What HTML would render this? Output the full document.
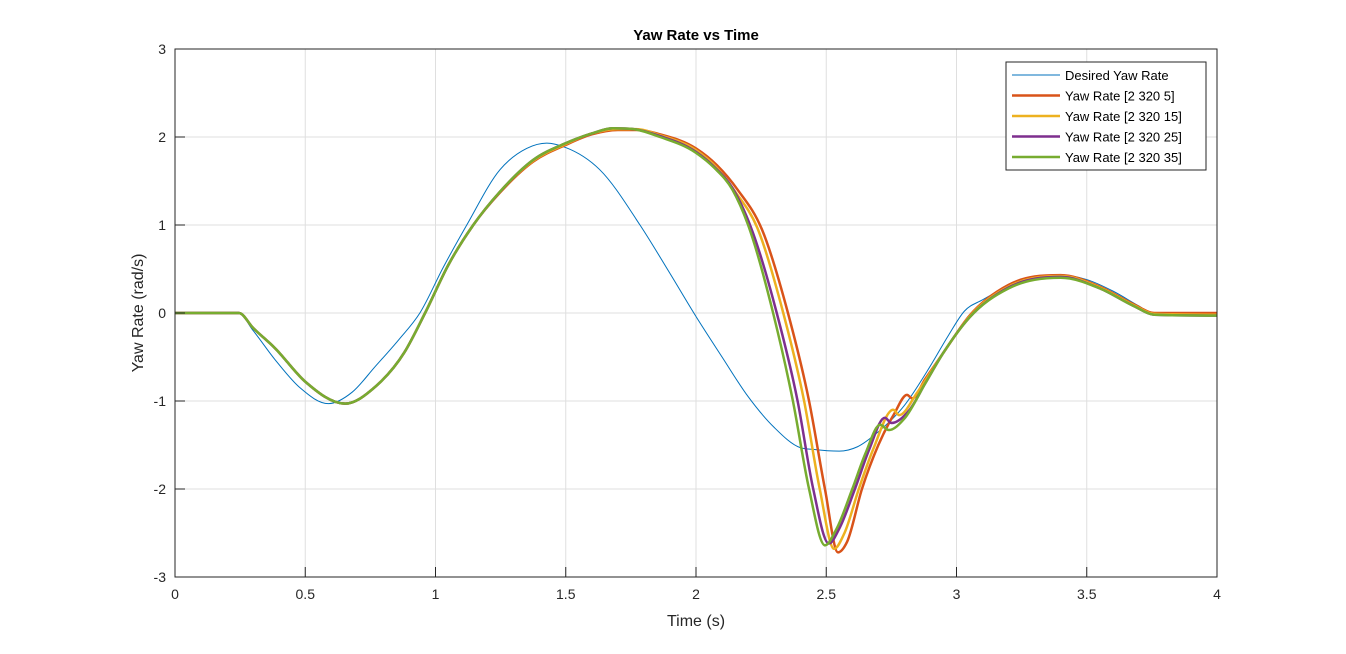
<!DOCTYPE html>
<html><head><meta charset="utf-8"><style>
body{margin:0;background:#fff}
svg text{font-family:"Liberation Sans",Arial,sans-serif;fill:#262626}
</style></head><body>
<svg id="chart" width="1346" height="649" viewBox="0 0 1346 649" xmlns="http://www.w3.org/2000/svg">
<rect width="1346" height="649" fill="#fff"/>
<g id="grid"></g>
<g id="series"></g>
<rect x="175" y="49" width="1042" height="528" fill="none" stroke="#262626" stroke-width="1"/>
<g id="ticks"></g>
<text x="696" y="40" text-anchor="middle" font-size="15" font-weight="bold" style="fill:#000">Yaw Rate vs Time</text>
<text x="696" y="626" text-anchor="middle" font-size="16">Time (s)</text>
<text transform="translate(143,313) rotate(-90)" text-anchor="middle" font-size="16">Yaw Rate (rad/s)</text>
<g id="legend"></g>
</svg>
<script>
const xTicks=[0,0.5,1,1.5,2,2.5,3,3.5,4];
const yTicks=[-3,-2,-1,0,1,2,3];
const seriesNames=["Desired Yaw Rate","Yaw Rate [2 320 5]","Yaw Rate [2 320 15]","Yaw Rate [2 320 25]","Yaw Rate [2 320 35]"];
const desired=[[0,0],[0.243,0],[0.3,-0.2],[0.384,-0.53],[0.48,-0.85],[0.589,-1.03],[0.68,-0.9],[0.768,-0.61],[0.86,-0.3],[0.94,0],[1.03,0.52],[1.12,1.0],[1.248,1.63],[1.35,1.87],[1.427,1.93],[1.5,1.88],[1.63,1.63],[1.785,1.0],[1.9,0.45],[2.0,-0.04],[2.1,-0.5],[2.2,-0.95],[2.3,-1.3],[2.4,-1.53],[2.45,-1.55],[2.55,-1.57],[2.62,-1.52],[2.7,-1.35],[2.8,-1.05],[2.9,-0.6],[2.97,-0.25],[3.03,0.02],[3.1,0.15],[3.2,0.3],[3.3,0.4],[3.4,0.43],[3.5,0.38],[3.6,0.25],[3.7,0.08],[3.75,0],[4,0]];
const yaw5=[[0,0],[0.245,0],[0.3,-0.17],[0.384,-0.4],[0.5,-0.78],[0.653,-1.03],[0.768,-0.84],[0.88,-0.45],[0.96,0],[1.05,0.55],[1.145,1.0],[1.248,1.37],[1.375,1.72],[1.5,1.91],[1.6,2.03],[1.7,2.08],[1.78,2.08],[1.862,2.03],[2.0,1.87],[2.08,1.68],[2.16,1.4],[2.253,0.95],[2.353,0],[2.434,-1],[2.495,-2],[2.545,-2.72],[2.58,-2.6],[2.637,-2.0],[2.7,-1.5],[2.76,-1.15],[2.81,-0.93],[2.83,-0.97],[2.88,-0.75],[2.95,-0.45],[3.05,-0.03],[3.2,0.32],[3.4,0.43],[3.55,0.3],[3.68,0.1],[3.76,0],[4,0]];
const yaw15=[[0,0],[0.245,0],[0.3,-0.17],[0.384,-0.4],[0.5,-0.78],[0.653,-1.03],[0.768,-0.84],[0.88,-0.45],[0.96,0],[1.05,0.55],[1.145,1.0],[1.248,1.38],[1.375,1.73],[1.5,1.92],[1.6,2.04],[1.69,2.09],[1.77,2.09],[1.862,2.02],[2.0,1.85],[2.08,1.65],[2.15,1.38],[2.235,0.97],[2.335,0],[2.415,-1],[2.475,-2],[2.53,-2.68],[2.57,-2.5],[2.625,-2],[2.68,-1.55],[2.757,-1.1],[2.78,-1.16],[2.85,-0.9],[2.95,-0.45],[3.05,-0.04],[3.2,0.3],[3.4,0.42],[3.55,0.29],[3.68,0.09],[3.76,-0.01],[4,-0.02]];
const yaw25=[[0,0],[0.245,0],[0.3,-0.17],[0.384,-0.4],[0.5,-0.78],[0.653,-1.03],[0.768,-0.84],[0.88,-0.45],[0.96,0],[1.05,0.55],[1.145,1.0],[1.248,1.38],[1.375,1.74],[1.5,1.93],[1.6,2.04],[1.68,2.1],[1.76,2.09],[1.862,2.01],[2.0,1.83],[2.07,1.66],[2.14,1.42],[2.21,0.98],[2.31,0],[2.39,-1],[2.45,-2],[2.51,-2.62],[2.55,-2.45],[2.61,-2],[2.665,-1.55],[2.725,-1.19],[2.75,-1.25],[2.82,-1.1],[2.88,-0.8],[2.95,-0.45],[3.05,-0.05],[3.2,0.29],[3.4,0.41],[3.55,0.28],[3.68,0.08],[3.76,-0.02],[4,-0.03]];
const yaw35=[[0,0],[0.245,0],[0.3,-0.17],[0.384,-0.4],[0.5,-0.78],[0.653,-1.03],[0.768,-0.84],[0.88,-0.45],[0.96,0],[1.05,0.55],[1.145,1.0],[1.248,1.38],[1.375,1.74],[1.5,1.93],[1.6,2.04],[1.68,2.1],[1.76,2.09],[1.862,2.0],[2.0,1.82],[2.07,1.65],[2.14,1.4],[2.2,1.0],[2.296,0],[2.372,-1],[2.434,-2],[2.495,-2.64],[2.54,-2.45],[2.6,-2],[2.65,-1.6],[2.707,-1.27],[2.74,-1.33],[2.8,-1.2],[2.88,-0.8],[2.95,-0.45],[3.05,-0.05],[3.2,0.28],[3.4,0.4],[3.55,0.28],[3.68,0.08],[3.76,-0.02],[4,-0.03]];
const allSeries=[desired,yaw5,yaw15,yaw25,yaw35];
const colors=["#0072BD","#D95319","#EDB120","#7E2F8E","#77AC30"];
const widths=[1,2.5,2.5,2.5,2.5];
const seriesKeys=["desired-yaw-rate","yaw-rate-5","yaw-rate-15","yaw-rate-25","yaw-rate-35"];

const X0=175,X1=1217,Y0=577,Y1=49;
const sx=t=>X0+(t-0)/(4-0)*(X1-X0);
const sy=v=>Y0-(v+3)/6*(Y0-Y1);
const NS="http://www.w3.org/2000/svg";
function mk(tag,attrs,parent){const e=document.createElementNS(NS,tag);for(const k in attrs)e.setAttribute(k,attrs[k]);parent.appendChild(e);return e;}
const grid=document.getElementById('grid'),ticks=document.getElementById('ticks');
xTicks.forEach(t=>{
  const x=sx(t);
  const g=mk('line',{x1:x,x2:x,y1:Y1,y2:Y0,stroke:'#dfdfdf','stroke-width':1},grid);
  
  
  const tk=mk('line',{x1:x,x2:x,y1:Y0,y2:Y0-10,stroke:'#262626'},ticks);
  
  
  const tl=mk('text',{x:x,y:Y0+22,'text-anchor':'middle','font-size':14},ticks);
  tl.textContent=String(t);
  
  
});
yTicks.forEach(v=>{
  const y=sy(v);
  const g=mk('line',{x1:X0,x2:X1,y1:y,y2:y,stroke:'#dfdfdf','stroke-width':1},grid);
  
  
  const tk=mk('line',{x1:X0,x2:X0+10,y1:y,y2:y,stroke:'#262626'},ticks);
  
  
  const tl=mk('text',{x:X0-9,y:y+5,'text-anchor':'end','font-size':14},ticks);
  tl.textContent=String(v);
  
  
});
// smooth cubic path (tangents from neighbouring chords, clamped at extrema)
function pathFor(pts){
  const p=pts.map(d=>[sx(d[0]),sy(d[1])]);
  const n=p.length,dx=[],m=[],tg=new Array(n);
  for(let i=0;i<n-1;i++){dx.push(p[i+1][0]-p[i][0]);m.push((p[i+1][1]-p[i][1])/dx[i]);}
  tg[0]=m[0];tg[n-1]=m[n-2];
  for(let i=1;i<n-1;i++){
    if(m[i-1]*m[i]<=0)tg[i]=0;
    else tg[i]=(m[i-1]*dx[i]+m[i]*dx[i-1])/(dx[i]+dx[i-1]);
    const lim=3*Math.min(Math.abs(m[i-1]),Math.abs(m[i]));
    if(Math.abs(tg[i])>lim)tg[i]=Math.sign(tg[i])*lim;
  }
  let s='M'+p[0][0].toFixed(2)+','+p[0][1].toFixed(2);
  for(let i=0;i<n-1;i++){
    const h=dx[i]/3;
    s+=' C'+(p[i][0]+h).toFixed(2)+','+(p[i][1]+tg[i]*h).toFixed(2)+' '+(p[i+1][0]-h).toFixed(2)+','+(p[i+1][1]-tg[i+1]*h).toFixed(2)+' '+p[i+1][0].toFixed(2)+','+p[i+1][1].toFixed(2);
  }
  return s;
}
const sg=document.getElementById('series');
allSeries.forEach((s,i)=>{
  const path=mk('path',{d:pathFor(s),fill:'none',stroke:colors[i],'stroke-width':widths[i],'stroke-linejoin':'round'},sg);
  
  
});
const lg=document.getElementById('legend');
const box=mk('rect',{x:1006,y:62,width:200,height:108,fill:'#fff',stroke:'#262626','stroke-width':1},lg);


seriesNames.forEach((n,i)=>{
  const y=75+i*20.5;
  const l=mk('line',{x1:1012,x2:1060,y1:y,y2:y,stroke:colors[i],'stroke-width':widths[i]},lg);
  
  
  const t=mk('text',{x:1065,y:y+5,'font-size':13,style:'fill:#000'},lg);
  t.textContent=n;
  
  
});
</script>
</body></html>
